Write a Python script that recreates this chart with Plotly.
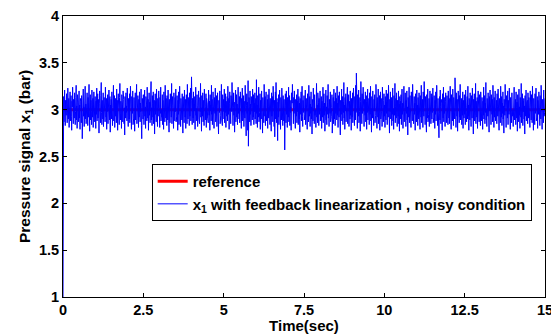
import numpy as np
import plotly.graph_objects as go

t_start, t_end = 0.0, 15.0
reference_level = 3.0

x1_noisy = [
1.00, 2.96, 3.14, 2.87, 3.05, 3.21, 2.92, 2.83, 3.10, 3.02, 2.94, 3.17, 3.08, 2.86, 2.99, 3.23, 3.04, 2.90, 3.12, 2.81, 3.07, 2.97, 3.19, 2.88, 3.01, 3.15, 2.93, 2.78, 3.09, 3.03, 3.24, 2.95, 2.85, 3.11, 3.00, 2.91, 3.18, 3.06, 2.84, 2.98, 3.13, 3.26, 2.89, 3.04, 2.80, 3.16, 2.94, 3.08, 2.87, 3.02,
3.20, 2.91, 3.05, 2.79, 3.12, 2.97, 3.09, 2.86, 3.15, 3.01, 2.69, 2.88, 3.07, 3.22, 2.93, 3.03, 2.82, 3.14, 2.99, 3.25, 2.90, 3.06, 2.85, 3.11, 2.96, 3.18, 3.00, 2.83, 3.13, 2.92, 3.08, 3.27, 2.95, 2.77, 3.04, 3.16, 2.89, 3.10, 2.98, 2.84, 3.21, 3.02, 2.92, 3.12, 2.81, 3.06, 3.19, 2.94, 3.00, 2.87,
3.14, 3.03, 2.80, 3.09, 2.95, 3.23, 2.88, 3.05, 3.17, 2.91, 2.99, 3.11, 2.75, 3.07, 3.20, 2.93, 3.02, 2.86, 3.15, 3.29, 2.97, 2.84, 3.10, 3.04, 2.90, 3.18, 2.82, 3.01, 3.13, 2.96, 3.08, 2.87, 3.24, 3.00, 2.92, 3.12, 2.79, 3.06, 2.98, 3.16, 2.85, 3.09, 2.94, 3.21, 3.03, 2.89, 3.14, 2.76, 3.05, 2.97,
3.11, 2.90, 3.19, 3.02, 2.83, 3.08, 2.95, 3.26, 2.88, 3.04, 3.15, 2.81, 3.00, 3.12, 2.93, 3.07, 2.86, 3.22, 2.98, 3.10, 2.78, 3.05, 3.17, 2.92, 3.01, 2.84, 3.13, 3.28, 2.96, 2.89, 3.09, 3.03, 2.80, 3.16, 2.94, 3.06, 2.87, 3.20, 2.99, 3.11, 2.85, 3.02, 2.73, 3.14, 3.08, 2.91, 3.18, 2.97, 3.04, 2.88,
3.23, 2.95, 3.07, 2.82, 3.12, 3.00, 2.90, 3.17, 2.86, 3.05, 3.25, 2.93, 3.09, 2.79, 3.14, 3.02, 2.96, 3.20, 2.84, 3.06, 2.91, 3.13, 3.01, 2.77, 3.10, 3.18, 2.89, 3.04, 2.97, 3.27, 2.85, 3.08, 2.94, 3.15, 3.00, 2.81, 3.11, 2.92, 3.19, 3.03, 2.87, 3.07, 2.98, 3.22, 2.83, 2.69, 2.95, 3.12, 3.05, 2.90,
3.16, 2.99, 2.84, 3.09, 3.21, 2.93, 3.03, 2.80, 3.14, 2.96, 3.06, 2.88, 3.24, 3.01, 2.91, 3.11, 2.78, 3.05, 3.18, 2.94, 3.08, 2.86, 3.13, 2.97, 3.30, 2.89, 3.02, 2.83, 3.15, 3.07, 2.92, 3.19, 2.85, 3.00, 3.10, 2.74, 3.04, 3.17, 2.95, 3.09, 2.87, 3.22, 2.98, 3.06, 2.82, 3.12, 2.93, 3.01, 3.20, 2.90,
3.05, 2.81, 3.13, 2.96, 3.24, 2.88, 3.07, 3.00, 2.92, 3.16, 2.84, 3.10, 3.02, 2.79, 3.19, 2.95, 3.08, 2.87, 3.26, 3.04, 2.91, 3.12, 2.97, 2.83, 3.15, 3.01, 2.89, 3.21, 2.94, 3.06, 2.76, 3.11, 3.03, 2.86, 3.17, 2.99, 3.09, 2.92, 3.28, 2.85, 3.04, 3.14, 2.90, 3.00, 2.80, 3.18, 2.96, 3.07, 2.88, 3.13,
2.98, 3.22, 2.87, 3.05, 2.93, 3.15, 3.02, 2.78, 3.10, 2.95, 3.19, 2.84, 3.06, 3.25, 2.91, 3.01, 2.82, 3.12, 2.97, 3.08, 2.89, 3.17, 3.03, 2.75, 3.14, 2.94, 3.09, 2.86, 3.21, 3.00, 2.92, 3.11, 2.80, 3.04, 3.16, 2.96, 2.85, 3.27, 3.02, 2.90, 3.13, 2.98, 3.07, 2.83, 3.18, 2.93, 3.05, 3.23, 2.88, 3.10,
3.35, 2.97, 2.84, 3.12, 3.03, 2.91, 3.19, 2.86, 3.06, 2.99, 3.14, 2.79, 3.09, 3.24, 2.94, 3.01, 2.88, 3.16, 3.04, 2.82, 3.11, 2.96, 3.20, 2.90, 3.07, 2.85, 3.13, 2.98, 3.28, 2.92, 3.02, 2.77, 3.15, 3.05, 2.93, 3.18, 2.87, 3.00, 3.10, 2.83, 3.22, 2.95, 3.08, 2.89, 3.03, 3.17, 2.81, 3.12, 2.97, 3.06,
2.91, 3.14, 2.86, 3.21, 3.02, 2.94, 3.09, 2.78, 3.16, 2.99, 3.05, 2.88, 3.26, 2.95, 3.11, 2.84, 3.03, 3.19, 2.92, 3.07, 2.80, 3.13, 3.00, 2.96, 3.23, 2.87, 3.08, 2.93, 3.15, 2.82, 3.04, 3.18, 2.90, 3.01, 2.74, 3.10, 3.06, 2.97, 3.20, 2.85, 3.12, 2.94, 3.02, 3.27, 2.89, 3.07, 2.83, 3.16, 2.98, 3.04,
3.11, 2.90, 3.22, 2.86, 3.05, 2.97, 3.17, 2.81, 3.09, 3.01, 2.93, 3.14, 2.88, 3.25, 3.03, 2.95, 3.12, 2.79, 3.07, 3.19, 2.91, 3.00, 2.85, 3.15, 3.06, 2.98, 3.29, 2.89, 3.10, 2.83, 3.02, 3.18, 2.94, 3.08, 2.76, 3.13, 2.99, 3.21, 2.87, 3.04, 3.16, 2.92, 3.06, 2.84, 3.11, 3.24, 2.96, 3.01, 2.90, 3.14,
2.86, 3.07, 3.19, 2.93, 3.02, 2.80, 3.12, 2.97, 3.23, 2.88, 3.05, 2.94, 3.15, 2.82, 3.09, 3.00, 2.91, 3.26, 2.85, 3.10, 2.72, 3.04, 3.17, 2.96, 3.08, 2.78, 3.31, 2.61, 2.90, 3.13, 3.03, 2.87, 3.20, 2.95, 3.06, 2.83, 3.14, 2.99, 3.11, 2.89, 3.22, 3.01, 2.92, 3.16, 2.84, 3.07, 2.98, 3.18, 2.90, 3.03,
3.12, 2.85, 3.32, 2.96, 3.05, 2.81, 3.15, 3.00, 2.92, 3.24, 2.87, 3.08, 2.97, 3.17, 2.79, 3.10, 3.02, 2.90, 3.20, 2.94, 3.06, 2.75, 3.13, 2.99, 3.09, 2.86, 3.27, 3.01, 2.93, 3.14, 2.83, 3.04, 3.19, 2.88, 3.07, 2.96, 3.11, 2.80, 3.16, 3.03, 2.91, 3.22, 2.95, 3.05, 2.84, 3.12, 2.98, 3.08, 2.77, 3.18,
2.93, 3.02, 3.14, 2.87, 3.25, 2.97, 3.06, 2.82, 3.10, 2.71, 3.04, 3.19, 2.90, 3.29, 2.95, 2.86, 3.12, 3.01, 2.67, 3.08, 2.92, 3.16, 2.84, 3.05, 3.21, 2.96, 3.09, 2.79, 3.13, 3.00, 2.89, 3.23, 2.94, 3.07, 2.83, 3.15, 3.02, 2.88, 3.11, 2.99, 2.57, 2.91, 3.17, 3.04, 2.86, 3.20, 2.95, 3.08, 2.81, 3.13,
3.00, 2.92, 3.24, 2.87, 3.06, 3.15, 2.83, 3.10, 2.97, 3.03, 2.78, 3.18, 2.94, 3.07, 3.27, 2.89, 3.01, 2.85, 3.13, 2.96, 3.20, 2.91, 3.05, 2.80, 3.11, 3.02, 2.93, 3.16, 2.86, 3.09, 2.98, 3.22, 2.84, 3.04, 3.14, 2.90, 3.07, 2.76, 3.12, 3.00, 2.95, 3.19, 2.88, 3.06, 3.25, 2.93, 2.82, 3.10, 3.03, 2.97,
3.15, 2.89, 3.08, 2.95, 3.21, 2.84, 3.02, 3.12, 2.91, 3.05, 2.79, 3.17, 2.98, 3.09, 2.87, 3.26, 3.01, 2.93, 3.14, 2.82, 3.06, 2.96, 3.19, 2.90, 3.03, 2.74, 3.11, 3.07, 2.88, 3.23, 2.97, 3.04, 2.85, 3.16, 2.94, 3.10, 3.00, 2.81, 3.13, 3.28, 2.92, 3.05, 2.86, 3.18, 2.99, 3.08, 2.83, 3.12, 2.95, 3.02,
3.20, 2.88, 3.06, 2.97, 3.14, 2.80, 3.09, 3.01, 2.92, 3.24, 2.86, 3.04, 3.17, 2.94, 3.07, 2.77, 3.12, 2.99, 3.21, 2.89, 3.03, 2.84, 3.15, 3.08, 2.95, 3.27, 2.91, 3.00, 2.82, 3.11, 3.05, 2.96, 3.19, 2.87, 3.10, 2.93, 3.02, 3.16, 2.75, 3.06, 2.98, 3.13, 2.85, 3.22, 3.01, 2.90, 3.09, 2.83, 3.18, 2.96,
3.04, 3.12, 2.89, 3.25, 2.94, 3.07, 2.81, 3.15, 3.00, 2.92, 3.19, 2.86, 3.03, 2.73, 3.10, 3.06, 2.95, 3.22, 2.88, 3.01, 3.14, 2.84, 3.08, 2.97, 3.29, 2.91, 3.05, 2.79, 3.13, 2.99, 3.17, 2.87, 3.02, 2.93, 3.11, 3.24, 2.85, 3.06, 2.96, 3.16, 2.82, 3.09, 3.00, 2.90, 3.20, 2.94, 3.04, 2.78, 3.12, 3.07,
2.92, 3.18, 2.86, 3.05, 3.23, 2.95, 3.10, 2.83, 3.14, 3.01, 2.89, 3.26, 2.97, 3.39, 2.88, 3.08, 2.80, 3.16, 3.03, 2.93, 3.21, 2.86, 3.06, 2.98, 3.13, 2.77, 3.09, 3.30, 2.91, 3.02, 2.85, 3.17, 2.96, 3.07, 3.24, 2.90, 3.04, 2.82, 3.11, 3.00, 2.94, 3.19, 2.87, 3.05, 3.15, 2.79, 3.08, 2.97, 3.22, 2.89,
3.03, 2.93, 3.12, 2.84, 3.18, 3.06, 2.95, 3.25, 2.88, 3.01, 2.76, 3.14, 3.08, 2.91, 3.20, 2.97, 3.04, 2.83, 3.11, 2.99, 3.16, 2.86, 3.07, 2.94, 3.27, 2.89, 3.02, 2.80, 3.13, 3.05, 2.92, 3.22, 2.85, 3.09, 2.96, 3.15, 2.78, 3.03, 3.19, 2.90, 3.06, 2.98, 3.12, 2.82, 3.24, 2.95, 3.01, 2.87, 3.10, 3.17,
2.93, 3.05, 2.81, 3.14, 3.00, 2.89, 3.21, 2.96, 3.08, 2.84, 3.17, 3.02, 2.92, 3.26, 2.87, 3.06, 2.75, 3.11, 2.98, 3.19, 2.90, 3.04, 3.13, 2.83, 3.09, 2.95, 3.23, 2.88, 3.01, 2.79, 3.15, 3.07, 2.94, 3.28, 2.86, 3.03, 3.12, 2.91, 3.18, 2.97, 2.82, 3.10, 3.00, 2.93, 3.20, 2.85, 3.06, 2.77, 3.14, 3.02,
3.09, 2.90, 3.16, 2.84, 3.04, 3.22, 2.95, 3.07, 2.80, 3.12, 2.98, 3.25, 2.87, 3.01, 2.93, 3.18, 3.05, 2.82, 3.10, 2.96, 3.20, 2.89, 3.03, 2.73, 3.13, 3.06, 2.92, 3.24, 2.86, 3.00, 3.15, 2.94, 3.08, 2.81, 3.19, 2.97, 3.04, 2.88, 3.27, 2.91, 3.11, 2.85, 3.02, 3.14, 2.95, 3.07, 2.78, 3.17, 2.99, 3.09,
2.87, 3.21, 2.94, 3.05, 2.83, 3.13, 3.00, 2.90, 3.18, 2.96, 3.08, 2.79, 3.15, 3.03, 2.92, 3.26, 2.86, 3.06, 2.97, 3.11, 2.81, 3.19, 3.01, 2.93, 3.30, 2.88, 3.04, 2.84, 3.14, 2.98, 3.09, 2.76, 3.16, 3.02, 2.91, 3.22, 2.87, 3.07, 2.95, 3.12, 2.82, 3.05, 3.20, 2.94, 3.00, 2.85, 3.17, 3.08, 2.90, 3.13,
2.97, 3.23, 2.86, 3.04, 2.92, 3.15, 3.01, 2.80, 3.10, 2.95, 3.19, 2.88, 3.06, 3.26, 2.93, 3.02, 2.83, 3.12, 2.98, 3.08, 2.70, 2.96, 3.14, 2.89, 3.21, 3.03, 2.85, 3.11, 2.94, 3.07, 2.78, 3.17, 3.00, 2.91, 3.24, 2.87, 3.05, 2.96, 3.13, 2.82, 3.09, 3.18, 2.93, 3.01, 2.86, 3.15, 2.99, 3.06, 2.84, 3.20,
3.02, 2.91, 3.12, 2.85, 3.07, 3.25, 2.94, 3.03, 2.79, 3.16, 2.97, 3.09, 2.88, 3.22, 3.00, 2.83, 3.13, 2.95, 3.06, 2.90, 3.34, 2.87, 3.04, 2.81, 3.18, 3.01, 2.93, 3.11, 2.77, 3.08, 3.20, 2.96, 3.02, 2.86, 3.15, 2.92, 3.27, 2.89, 3.05, 2.98, 3.12, 2.84, 3.07, 2.94, 3.19, 2.80, 3.10, 3.03, 2.91, 3.16,
2.95, 3.06, 2.84, 3.21, 2.98, 3.10, 2.87, 3.02, 3.14, 2.90, 3.25, 2.93, 3.05, 2.78, 3.12, 3.00, 2.89, 3.18, 2.96, 3.08, 2.82, 3.15, 3.03, 2.91, 3.23, 2.86, 3.07, 2.74, 3.11, 2.99, 3.17, 2.88, 3.04, 2.94, 3.28, 2.85, 3.09, 3.01, 2.92, 3.13, 2.80, 3.06, 3.20, 2.97, 3.02, 2.87, 3.16, 2.93, 3.10, 2.83,
3.19, 2.96, 3.05, 2.88, 3.13, 3.01, 2.79, 3.09, 2.94, 3.24, 2.90, 3.03, 3.15, 2.85, 3.07, 2.97, 3.29, 2.89, 3.00, 2.82, 3.12, 3.06, 2.93, 3.18, 2.86, 3.04, 2.76, 3.14, 2.99, 3.21, 2.91, 3.08, 2.84, 3.16, 3.02, 2.95, 3.11, 2.87, 3.26, 2.98, 3.05, 2.81, 3.13, 2.92, 3.07, 3.20, 2.88, 3.01, 2.94, 3.10,
2.85, 3.17, 3.03, 2.93, 3.22, 2.89, 3.06, 2.78, 3.12, 2.98, 3.09, 2.86, 3.25, 3.00, 2.92, 3.14, 2.83, 3.07, 2.96, 3.19, 2.90, 3.04, 2.75, 3.11, 3.02, 2.94, 3.27, 2.87, 3.08, 2.81, 3.15, 2.99, 3.05, 2.91, 3.20, 2.84, 3.10, 3.01, 2.95, 3.23, 2.88, 3.06, 2.79, 3.13, 2.97, 3.03, 2.86, 3.18, 2.93, 3.09,
3.00, 2.82, 3.14, 2.95, 3.24, 2.89, 3.07, 2.97, 3.11, 2.84, 3.19, 3.02, 2.91, 3.08, 2.77, 3.16, 2.99, 3.05, 2.87, 3.22, 2.94, 3.03, 2.80, 3.13, 3.06, 2.92, 3.28, 2.86, 3.01, 2.96, 3.17, 2.83, 3.09, 2.98, 3.12, 2.90, 3.04, 2.74, 3.15, 3.00, 2.93, 3.21, 2.88, 3.07, 2.95, 3.10, 2.85, 3.18, 3.02, 2.91,
3.13, 2.97, 3.05, 2.81, 3.20, 2.94, 3.08, 2.89, 3.16, 3.01, 2.86, 3.25, 2.93, 3.04, 2.78, 3.12, 2.99, 3.09, 2.84, 3.17, 2.96, 3.03, 3.23, 2.88, 3.06, 2.92, 3.14, 2.80, 3.10, 3.00, 2.95, 3.19, 2.87, 3.07, 2.83, 3.15, 3.02, 2.90, 3.26, 2.94, 3.05, 2.79, 3.11, 2.98, 3.08, 2.86, 3.21, 2.93, 3.04, 2.97, 3.12,
]

x_ticks = [0, 2.5, 5, 7.5, 10, 12.5, 15]
x_tick_labels = ["0", "2.5", "5", "7.5", "10", "12.5", "15"]
y_ticks = [1, 1.5, 2, 2.5, 3, 3.5, 4]
y_tick_labels = ["1", "1.5", "2", "2.5", "3", "3.5", "4"]

time = np.linspace(t_start, t_end, len(x1_noisy))
reference = [reference_level] * len(x1_noisy)

FONT = "Liberation Sans, Arial, sans-serif"

fig = go.Figure()
fig.add_trace(go.Scatter(
    x=time, y=reference, mode="lines", name="reference",
    line=dict(color="#ff0000", width=3),
))
fig.add_trace(go.Scatter(
    x=time, y=x1_noisy, mode="lines",
    name="x<sub>1</sub> with feedback linearization , noisy condition",
    line=dict(color="#0000ff", width=1),
))

axis_common = dict(
    showline=True, linecolor="black", linewidth=1, mirror="ticks",
    ticks="inside", ticklen=4, tickcolor="black", tickwidth=1,
    showgrid=False, zeroline=False, automargin=False,
    ticklabeloverflow="allow",
    tickfont=dict(family=FONT, size=14.5, color="black", weight="bold"),
)

# The page body adds an 8 px margin, so the figure is 8 px smaller and the
# left/top margins are reduced to keep the plot area where it belongs.
fig.update_layout(
    width=551, height=326,
    margin=dict(l=55, r=14, t=8, b=37),
    paper_bgcolor="white", plot_bgcolor="white",
    font=dict(family=FONT, size=15, color="black", weight="bold"),
    xaxis=dict(
        range=[t_start, t_end], tickvals=x_ticks, ticktext=x_tick_labels,
        title=dict(text="Time(sec)", standoff=0,
                   font=dict(family=FONT, size=15, color="black", weight="bold")),
        **axis_common,
    ),
    yaxis=dict(
        range=[1, 4], tickvals=y_ticks, ticktext=y_tick_labels,
        title=dict(text="Pressure signal x<sub>1</sub> (bar)", standoff=4,
                   font=dict(family=FONT, size=15.5, color="black", weight="bold")),
        **axis_common,
    ),
    legend=dict(
        x=0.184, y=0.473, xanchor="left", yanchor="top",
        bgcolor="white", bordercolor="black", borderwidth=1,
        font=dict(family=FONT, size=15, color="black", weight="bold"),
        itemwidth=30, tracegroupgap=0,
    ),
    showlegend=True,
)

fig.write_html("out.html")
